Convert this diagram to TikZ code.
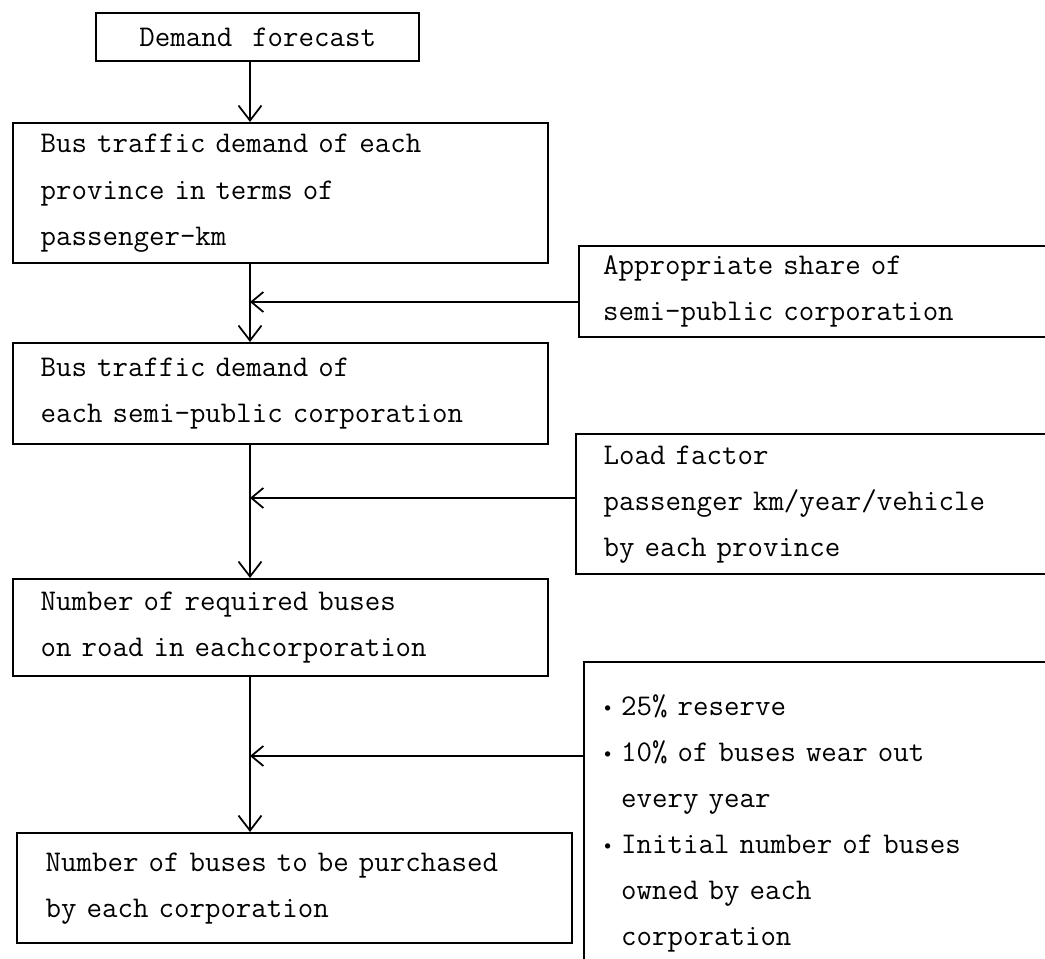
\documentclass[tikz,border=0pt]{standalone}
\usetikzlibrary{arrows.meta}
\newcommand{\dotitem}{\makebox[0.34cm][l]{\raisebox{0.12em}{\scriptsize$\bullet$}}}
\newcommand{\dotskip}{\hspace*{0.34cm}}
\begin{document}
\begin{tikzpicture}[
  box/.style={draw, line width=1.4pt, anchor=north west, align=left,
    inner xsep=0.55cm, inner ysep=0pt,
    font=\fontsize{17.1}{26.2}\selectfont\ttfamily},
  flow/.style={line width=1pt, -{Straight Barb[length=0.3cm, width=0.46cm]}},
  feed/.style={line width=1pt, -{Straight Barb[length=0.24cm, width=0.4cm]}}]
  \useasboundingbox (0,0) rectangle (20.9,19.18);
  \clip (0,0) rectangle (20.9,19.18);

  % left column
  \node[box, align=center, text width=5.36cm, minimum height=0.96cm] (forecast) at (1.9,18.94) {Demand\ \ forecast};
  \node[box, text width=9.6cm, minimum height=2.8cm] (province) at (0.24,16.74)
    {Bus traffic demand of each\\province in terms of\\passenger-km};
  \node[box, text width=9.6cm, minimum height=2.02cm] (corp) at (0.24,12.34)
    {Bus traffic demand of\\each semi-public corporation};
  \node[box, text width=9.6cm, minimum height=1.94cm] (required) at (0.24,7.62)
    {Number of required buses\\on road in eachcorporation};
  \node[box, inner xsep=0.57cm, text width=9.95cm, minimum height=2.2cm] (purchase) at (0.32,2.54)
    {Number of buses to be purchased\\by each corporation};

  % right column
  \node[box, inner xsep=0.48cm, text width=12cm, minimum height=1.82cm] (share) at (11.56,14.28)
    {Appropriate share of\\semi-public corporation};
  \node[box, text width=12cm, minimum height=2.8cm] (load) at (11.5,10.52)
    {Load factor\\passenger km/year/vehicle\\by each province};
  \node[box, inner xsep=0.4cm, text width=12cm, minimum height=6.44cm] (extra) at (11.66,5.96)
    {\dotitem 25\% reserve\\\dotitem 10\% of buses wear out\\\dotskip every year\\
     \dotitem Initial number of buses\\\dotskip owned by each\\\dotskip corporation};

  \coordinate (spine) at (5,0);
  \coordinate (j1) at (5,13.14);
  \coordinate (j2) at (5,9.22);
  \coordinate (j3) at (5,4.06);

  \draw[flow] (forecast.south -| spine) -- (province.north -| spine);
  \draw[flow] (province.south -| spine) -- (corp.north -| spine);
  \draw[flow] (corp.south -| spine) -- (required.north -| spine);
  \draw[flow] (required.south -| spine) -- (purchase.north -| spine);

  \draw[feed] (j1 -| share.west) -- (j1);
  \draw[feed] (j2 -| load.west) -- (j2);
  \draw[feed] (j3 -| extra.west) -- (j3);
\end{tikzpicture}
\end{document}
